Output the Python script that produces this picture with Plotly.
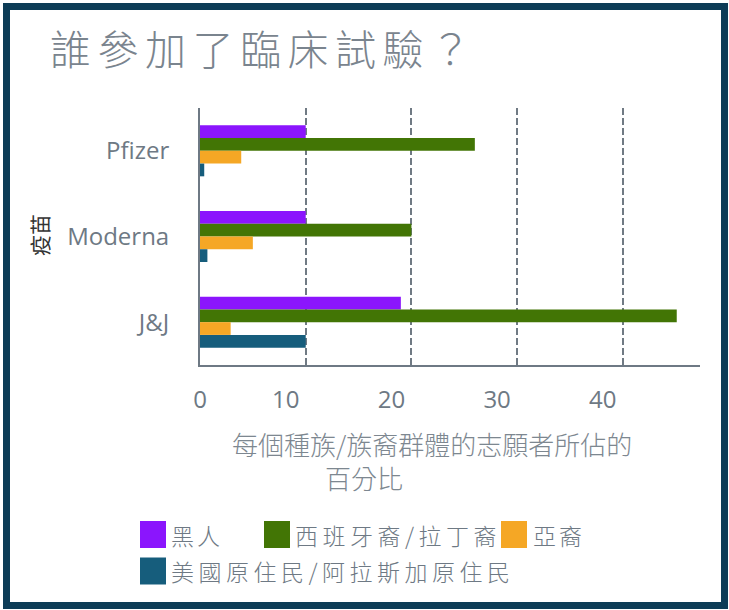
import plotly.graph_objects as go

# ---- data ----
vaccines = ["Pfizer", "Moderna", "J&J"]
series_names = ["黑人", "西班牙裔/拉丁裔", "亞裔", "美國原住民/阿拉斯加原住民"]
black = [10.0, 10.0, 19.0]
hispanic = [26.0, 20.0, 45.1]
asian = [3.9, 5.0, 2.9]
native = [0.4, 0.7, 10.0]
x_ticks = [0, 10, 20, 30, 40]
x_tick_labels = ["0", "10", "20", "30", "40"]

colors = ["#8b15fd", "#427505", "#f5a725", "#165d7c"]
series_values = [black, hispanic, asian, native]

W, H = 729, 610
L, R, T, B = 200, 29, 108, 245
XMAX = 47.3


def px(x):
    return (x - L) / (W - L - R)


def py(y):
    return (H - B - y) / (H - T - B)


GRAY = "#6e7984"
FONT = "Noto Sans CJK TC"

fig = go.Figure()
for name, vals, c in zip(series_names, series_values, colors):
    fig.add_trace(go.Bar(y=vaccines, x=vals, name=name, orientation="h",
                         marker=dict(color=c, line=dict(width=0)),
                         showlegend=False))

# empty helper trace so the label axis (x2) is drawn
fig.add_trace(go.Scatter(x=[], y=[], xaxis="x2", yaxis="y", mode="markers",
                         showlegend=False, hoverinfo="skip"))

# shifted label positions (labels sit left of gridlines in reference)
label_shift = 20 / ((W - L - R) / XMAX)
label_pos = [0] + [v - label_shift for v in x_ticks[1:]]

fig.update_layout(
    width=W, height=H,
    margin=dict(l=L, r=R, t=T, b=B, pad=0),
    paper_bgcolor="white", plot_bgcolor="white",
    barmode="group", bargap=0.405, bargroupgap=0,
    xaxis=dict(range=[0, XMAX], tickvals=x_ticks, showticklabels=False,
               showgrid=True, gridcolor="#707a84", gridwidth=2, griddash="7px,3px",
               zeroline=False, showline=True, linecolor=GRAY, linewidth=2,
               ticks="", fixedrange=True),
    xaxis2=dict(range=[0, XMAX], overlaying="x", anchor="y", side="bottom",
                tickvals=label_pos, ticktext=x_tick_labels,
                showgrid=False, zeroline=False, showline=False, ticks="",
                tickfont=dict(family="Open Sans", size=24, color=GRAY),
                ticklabelstandoff=18, fixedrange=True),
    yaxis=dict(categoryorder="array", categoryarray=vaccines, autorange="reversed",
               showgrid=False, zeroline=False, showline=True, linecolor=GRAY,
               linewidth=2, ticks="", ticklabelstandoff=24, fixedrange=True,
               tickfont=dict(family="Open Sans", size=24, color=GRAY)),
    font=dict(family=FONT, color=GRAY),
)

annotations = []
# title
annotations.append(dict(text='<span style="letter-spacing:6.5px">誰參加了臨床試驗？</span>',
                        x=px(48), y=py(47), xref="paper", yref="paper",
                        xanchor="left", yanchor="middle", showarrow=False,
                        font=dict(family=FONT, size=41, color="#7a848e", weight=300)))
# y-axis title
annotations.append(dict(text="疫苗", x=px(39), y=py(235), xref="paper", yref="paper",
                        xanchor="center", yanchor="middle", showarrow=False,
                        textangle=-90, font=dict(family=FONT, size=21, color="#333333")))
# x-axis title lines
annotations.append(dict(text="每個種族/族裔群體的志願者所佔的", x=px(432), y=py(443.5),
                        xref="paper", yref="paper", xanchor="center", yanchor="middle",
                        showarrow=False, font=dict(family=FONT, size=26, color="#7d8790", weight=300)))
annotations.append(dict(text="百分比", x=px(363.5), y=py(477.5),
                        xref="paper", yref="paper", xanchor="center", yanchor="middle",
                        showarrow=False, font=dict(family=FONT, size=26, color="#7d8790", weight=300)))

# custom legend
legend_items = [  # (square x0, row center y, text x, letter spacing)
    (140, 534.5, 169, 3),
    (264, 534.5, 293, 4.5),
    (501, 534.5, 531, 3),
    (140, 571, 169, 4.5),
]
shapes = []
for (sx, cy, tx, ls), name, c in zip(legend_items, series_names, colors):
    shapes.append(dict(type="rect", xref="paper", yref="paper",
                       x0=px(sx), x1=px(sx + 26), y0=py(cy - 13.5), y1=py(cy + 13.5),
                       fillcolor=c, line=dict(width=0), layer="above"))
    annotations.append(dict(text=f'<span style="letter-spacing:{ls}px">{name}</span>',
                            x=px(tx), y=py(cy), xref="paper", yref="paper",
                            xanchor="left", yanchor="middle", showarrow=False,
                            font=dict(family=FONT, size=23, color=GRAY, weight=300)))

# outer frame
shapes.append(dict(type="rect", xref="paper", yref="paper",
                   x0=px(6.5), x1=px(724.5), y0=py(605.5), y1=py(6.5),
                   line=dict(color="#0d3c57", width=7), fillcolor="rgba(0,0,0,0)",
                   layer="above"))

fig.update_layout(annotations=annotations, shapes=shapes)
fig.write_html("out.html", config={"displayModeBar": False},
               post_script="document.body.style.margin='0';document.body.style.overflow='hidden';")
